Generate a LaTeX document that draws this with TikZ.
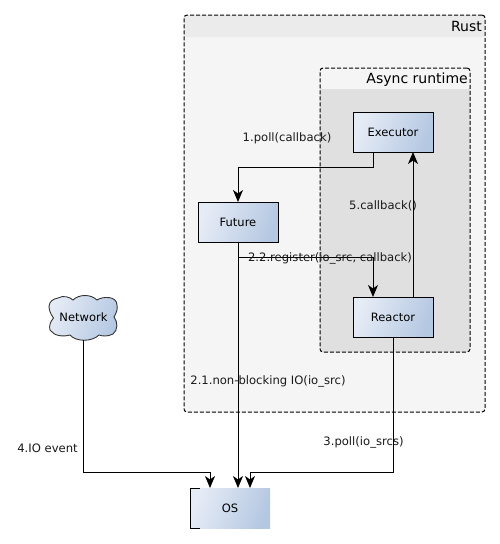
\documentclass[tikz,border=0pt]{standalone}
\usepackage{fontspec}
\setmainfont{DejaVu Sans}
\usetikzlibrary{arrows.meta,calc}
\definecolor{gradA}{HTML}{E6ECF6}
\definecolor{gradB}{HTML}{B5C8E2}
\tikzset{
  boxshade/.style={left color=gradA,right color=gradB,shading angle=70},
  block/.style={draw=black,line width=1pt,boxshade,minimum width=80pt,minimum height=40pt,inner sep=0pt,outer sep=0pt,font=\fontsize{11.5}{13}\selectfont},
  osblock/.style={boxshade,minimum width=80pt,minimum height=40pt,inner sep=0pt,outer sep=0pt,font=\fontsize{11.5}{13}\selectfont},
  container/.style={draw=black,line width=1pt,dash pattern=on 4pt off 2pt,rounded corners=3pt,inner sep=0pt,outer sep=0pt,anchor=north west},
  title/.style={inner sep=0pt,anchor=east,font=\fontsize{14}{16}\selectfont},
  link/.style={draw=black,line width=1pt,-{Stealth[length=12pt,width=10pt,inset=3.5pt]}},
  lab/.style={inner sep=0pt,anchor=center,font=\fontsize{11.6}{13}\selectfont,text=black!90}
}
\begin{document}
\begin{tikzpicture}[x=1pt,y=-1pt]
\useasboundingbox[fill=white] (0,0) rectangle (500,544);
% containers
\fill[rounded corners=3pt,fill=black!4] (184,15) rectangle (485,412);
\fill[rounded corners=3pt,fill=black!8] (184,15) -- (485,15) -- (485,37) -- (184,37) -- cycle;
\node[container,minimum width=301pt,minimum height=397pt] (rust) at (184,15) {};
\node[title] (rustt) at (482,26.5) {Rust};
\fill[rounded corners=3pt,fill=black!12] (320,68) rectangle (470,352);
\fill[rounded corners=3pt,fill=black!4] (320,68) -- (470,68) -- (470,89) -- (320,89) -- cycle;
\node[container,minimum width=150pt,minimum height=284pt] (async) at (320,68) {};
\node[title] (asynct) at (468,79.5) {Async runtime};
% cloud
\path[draw=black!80,line width=0.9pt,boxshade]
  (53.5,318) .. controls (47,309) and (47,300) .. (58,298)
  .. controls (63,295) and (70,297) .. (73,300)
  .. controls (79,294) and (91,294) .. (97,300)
  .. controls (103,296) and (117,296) .. (117,305)
  .. controls (118,310) and (116,313) .. (114,317)
  .. controls (118,322) and (118,330) .. (113,334)
  .. controls (107,337) and (102,336) .. (99,335)
  .. controls (92,342) and (76,342) .. (70,335)
  .. controls (63,337) and (54,336) .. (50,330)
  .. controls (49,326) and (50,322) .. (53.5,318) -- cycle;
\node[inner sep=0pt,font=\fontsize{11.5}{13}\selectfont] (net) at (83.5,317.5) {Network};
\coordinate (netb) at (83.5,340);
% blocks
\node[block] (exec) at (393,132) {Executor};
\node[block] (fut) at (238,222) {Future};
\node[block] (reac) at (393,317) {Reactor};
\node[osblock] (os) at (230,508) {OS};
\draw[line width=1pt] ([xshift=10pt]os.north west) -- (os.north west) -- (os.south west) -- ([xshift=10pt]os.south west);
% connectors
\coordinate (bend1) at ($(exec.south)+(-20,15)$);
\draw[link] ([xshift=-20pt]exec.south) -- (bend1) -| (fut.north);
\draw[link] (fut.south) -- ([xshift=8pt]os.north);
\coordinate (bend2) at ($(fut.south)+(0,15)$);
\draw[link] (bend2) -| ([xshift=-20pt]reac.north);
\draw[link] ([xshift=20pt]reac.north) -- ([xshift=20pt]exec.south);
\coordinate (bend3) at ($(reac.south)+(0,135)$);
\draw[link] (reac.south) -- (bend3) -| ([xshift=20pt]os.north);
\coordinate (bend4) at (netb |- bend3);
\draw[link] (netb) -- (bend4) -| ([xshift=-20pt]os.north);
% labels
\node[lab] (l1) at (287,138) {1.poll(callback)};
\node[lab] (l5) at (383,206) {5.callback()};
\node[lab] (l22) at (330,258) {2.2.register(io\_src, callback)};
\node[lab] (l21) at (268,381.5) {2.1.non-blocking IO(io\_src)};
\node[lab] (l3) at (363.5,442) {3.poll(io\_srcs)};
\node[lab] (l4) at (47.5,448) {4.IO event};
\end{tikzpicture}
\end{document}
